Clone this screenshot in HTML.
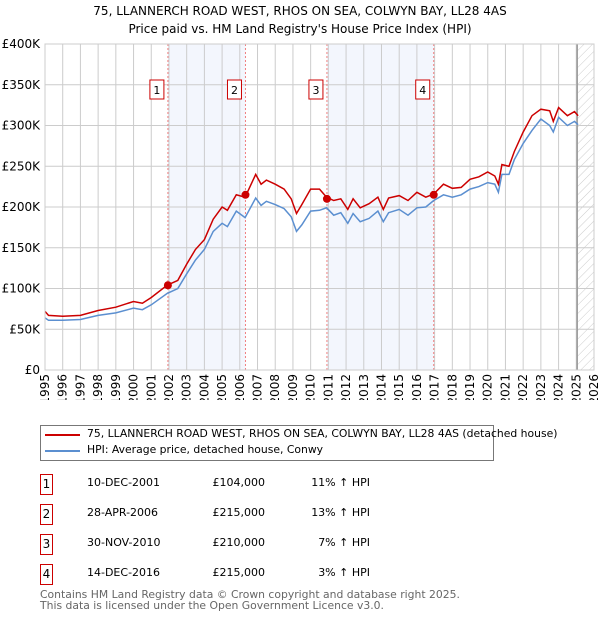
<!DOCTYPE html>
<html><head><meta charset="utf-8"><style>
body{margin:0;background:#fff;font-family:"DejaVu Sans","Liberation Sans",sans-serif;}
#wrap{position:relative;width:600px;height:620px;overflow:hidden}
.t{position:absolute;font-size:12px;color:#000;white-space:nowrap}
.box{position:absolute;width:11px;height:19px;border:1px solid #c00;font-size:12px;text-align:center;line-height:19px}
</style></head><body><div id="wrap">
<div class="t" style="left:0;width:600px;text-align:center;top:2px;font-size:12px;line-height:18px">75, LLANNERCH ROAD WEST, RHOS ON SEA, COLWYN BAY, LL28 4AS<br>Price paid vs. HM Land Registry's House Price Index (HPI)</div>
<svg id="svg" width="600" height="400" style="position:absolute;left:0;top:0"></svg>
<div style="position:absolute;left:40px;top:425px;width:452px;height:34px;border:1px solid #777"></div>
<div style="position:absolute;left:45px;top:434px;width:35px;height:2px;background:#c00"></div>
<div class="t" style="left:87px;top:427px;font-size:10.8px">75, LLANNERCH ROAD WEST, RHOS ON SEA, COLWYN BAY, LL28 4AS (detached house)</div>
<div style="position:absolute;left:45px;top:450px;width:35px;height:2px;background:#5b8fd0"></div>
<div class="t" style="left:87px;top:443px;font-size:10.8px">HPI: Average price, detached house, Conwy</div>
<div id="table"></div>
<div class="t" style="left:40px;top:589px;color:#666;font-size:10.8px;line-height:11px">Contains HM Land Registry data © Crown copyright and database right 2025.<br>This data is licensed under the Open Government Licence v3.0.</div>
</div>
<script>
const years=[1995,1995.2,1996,1997,1998,1999,2000,2000.5,2001,2001.9,2002.5,2003,2003.5,2004,2004.5,2005,2005.3,2005.8,2006.3,2006.9,2007.2,2007.5,2008,2008.5,2008.9,2009.2,2009.5,2010,2010.5,2010.9,2011.3,2011.7,2012.1,2012.4,2012.8,2013.3,2013.8,2014.1,2014.4,2015,2015.5,2016,2016.5,2016.95,2017.5,2018,2018.5,2019,2019.5,2020,2020.4,2020.6,2020.8,2021.2,2021.5,2022,2022.5,2023,2023.5,2023.7,2024,2024.5,2024.9,2025.1];
const hpi=[64,61,61,62,67,70,76,74,80,94,100,118,135,148,170,180,176,195,187,211,202,207,203,198,188,170,178,195,196,199,190,193,180,192,182,186,195,182,193,197,190,199,200,208,215,212,215,222,225,230,228,218,240,240,258,278,294,308,300,292,310,300,305,301];
const price=[72,67,66,67,73,77,84,82,89,104,110,130,148,160,185,200,196,215,212,240,228,233,228,222,210,192,203,222,222,212,208,210,197,210,199,204,212,197,211,214,208,218,212,216,228,223,224,234,237,243,238,228,252,250,268,292,312,320,318,305,322,312,317,312];
const saleDates=[2001.94,2006.32,2010.92,2016.95];
const saleValues=[104,215,210,215];
const saleLabels=["10-DEC-2001","28-APR-2006","30-NOV-2010","14-DEC-2016"];
const salePrices=["£104,000","£215,000","£210,000","£215,000"];
const saleHpi=["11% ↑ HPI","13% ↑ HPI","7% ↑ HPI","3% ↑ HPI"];
const yTicks=[0,50,100,150,200,250,300,350,400];
const xTicks=[];for(let y=1995;y<=2026;y++)xTicks.push(y);
const X0=45,X1=594,Y0=370,Y1=44;
const xs=v=>X0+(v-1995)*(X1-X0)/31, ys=v=>Y0-v*(Y0-Y1)/400;
const NS="http://www.w3.org/2000/svg",svg=document.getElementById('svg');
function mk(t,a,p){const e=document.createElementNS(NS,t);for(const k in a)e.setAttribute(k,a[k]);(p||svg).appendChild(e);return e;}
const defs=mk('defs',{});const pat=mk('pattern',{id:'h',width:6,height:6,patternUnits:'userSpaceOnUse',patternTransform:'rotate(45)'},defs);mk('line',{x1:0,y1:0,x2:0,y2:6,stroke:'#ccc','stroke-width':1},pat);
for(let i=0;i<2;i++){const r=mk('rect',{x:xs(saleDates[i*2]),y:Y1,width:xs(saleDates[i*2+1])-xs(saleDates[i*2]),height:Y0-Y1,fill:'#f3f6fd'});

}
const hr=mk('rect',{x:xs(2025.05),y:Y1,width:X1-xs(2025.05),height:Y0-Y1,fill:'url(#h)'});


xTicks.forEach(y=>{const l=mk('line',{x1:xs(y),x2:xs(y),y1:Y1,y2:Y0,stroke:'#ccc'});


const t=mk('text',{x:0,y:0,transform:`translate(${xs(y)+4},${Y0+4}) rotate(-90)`,'text-anchor':'end','font-size':12,'font-family':'DejaVu Sans, sans-serif'});t.textContent=y;

});
yTicks.forEach(v=>{const l=mk('line',{x1:X0,x2:X1,y1:ys(v),y2:ys(v),stroke:'#ccc'});


const t=mk('text',{x:X0-5,y:ys(v)+4,'text-anchor':'end','font-size':12,'font-family':'DejaVu Sans, sans-serif'});t.textContent=v===0?'£0':'£'+v+'K';

});
const vl=mk('line',{x1:xs(2025.05),x2:xs(2025.05),y1:Y1,y2:Y0,stroke:'#999','stroke-width':1.5});


saleDates.forEach((d,i)=>{const l=mk('line',{x1:xs(d),x2:xs(d),y1:Y1,y2:Y0,stroke:'#f08080','stroke-dasharray':'2,2','stroke-width':1});

});
const pts=a=>a.map((v,i)=>xs(years[i]).toFixed(1)+','+ys(v).toFixed(1)).join(' ');
const hl=mk('polyline',{points:pts(hpi),fill:'none',stroke:'#5b8fd0','stroke-width':1.5});


const pl=mk('polyline',{points:pts(price),fill:'none',stroke:'#c00','stroke-width':1.5});


saleDates.forEach((d,i)=>{const c=mk('circle',{cx:xs(d),cy:ys(saleValues[i]),r:4,fill:'#c00'});


const r=mk('rect',{x:xs(d)-18,y:80,width:14,height:19,fill:'#fff',stroke:'#c00'});


const t=mk('text',{x:xs(d)-11,y:94,'text-anchor':'middle','font-size':11,'font-family':'DejaVu Sans, sans-serif'});t.textContent=i+1;

});
mk('rect',{x:X0,y:Y1,width:X1-X0,height:Y0-Y1,fill:'none',stroke:'#ccc'});
const tb=document.getElementById('table');
saleLabels.forEach((s,i)=>{const y=476+i*30;
const b=document.createElement('div');b.className='box';b.style.left='40px';b.style.top=(y-2)+'px';b.textContent=i+1;

tb.appendChild(b);
[[77,s,'sale-row-date',null],[188,salePrices[i],'sale-row-price',77],[290,saleHpi[i],'sale-row-hpi',80]].forEach(([x,txt,n,w])=>{const d=document.createElement('div');d.className='t';d.style.top=y+'px';d.style.fontSize='11px';
if(w){d.style.left=(x)+'px';d.style.width=w+'px';d.style.textAlign='right';}else d.style.left=(x+10)+'px';
d.textContent=txt;

tb.appendChild(d);});});
</script></body></html>
